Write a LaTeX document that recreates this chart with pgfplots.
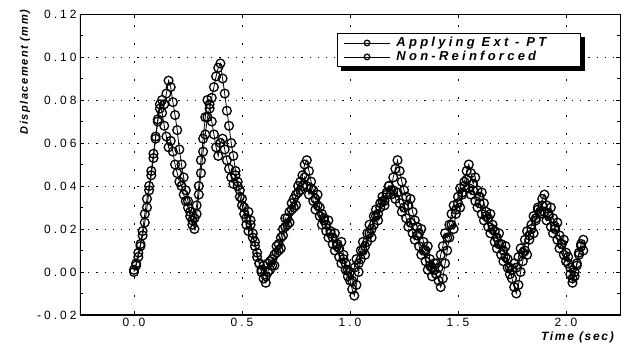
\documentclass[border=0pt]{standalone}
\usepackage{pgfplots}
\usepackage{pgfplotstable}
\pgfplotsset{compat=1.18}
\usepackage{fontspec}
\setmainfont{Liberation Sans}
\newfontfamily\tickfont[LetterSpace=25]{Liberation Sans}
\newfontfamily\labfont[LetterSpace=14]{Liberation Sans}
\newfontfamily\legfont[LetterSpace=25]{Liberation Sans}
\usetikzlibrary{backgrounds}

\pgfplotstableread{
t a b
0.00 0.000 0.001
0.01 0.004 0.003
0.02 0.009 0.007
0.03 0.013 0.012
0.04 0.019 0.017
0.05 0.027 0.023
0.06 0.034 0.030
0.07 0.040 0.038
0.08 0.047 0.045
0.09 0.055 0.053
0.10 0.063 0.062
0.11 0.071 0.070
0.12 0.076 0.078
0.13 0.080 0.074
0.14 0.078 0.068
0.15 0.083 0.063
0.16 0.089 0.058
0.17 0.086 0.061
0.18 0.079 0.056
0.19 0.073 0.050
0.20 0.066 0.046
0.21 0.057 0.042
0.22 0.050 0.040
0.23 0.044 0.036
0.24 0.038 0.033
0.25 0.033 0.030
0.26 0.028 0.026
0.27 0.024 0.022
0.28 0.020 0.025
0.29 0.027 0.031
0.30 0.036 0.040
0.31 0.046 0.052
0.32 0.056 0.062
0.33 0.064 0.072
0.34 0.072 0.080
0.35 0.076 0.078
0.36 0.081 0.070
0.37 0.086 0.064
0.38 0.091 0.058
0.39 0.095 0.054
0.40 0.097 0.060
0.41 0.090 0.062
0.42 0.083 0.057
0.43 0.075 0.052
0.44 0.068 0.048
0.45 0.060 0.044
0.46 0.054 0.041
0.47 0.047 0.045
0.48 0.042 0.040
0.49 0.038 0.035
0.50 0.034 0.031
0.51 0.030 0.027
0.52 0.025 0.022
0.53 0.028 0.019
0.54 0.022 0.024
0.55 0.016 0.018
0.56 0.014 0.012
0.57 0.009 0.007
0.58 0.004 0.004
0.59 0.001 0.000
0.60 -0.003 0.003
0.61 -0.005 -0.002
0.62 0.000 0.004
0.63 0.005 0.001
0.64 0.003 0.006
0.65 0.008 0.003
0.66 0.012 0.009
0.67 0.010 0.013
0.68 0.016 0.011
0.69 0.020 0.017
0.70 0.025 0.021
0.71 0.022 0.025
0.72 0.028 0.023
0.73 0.032 0.029
0.74 0.030 0.034
0.75 0.036 0.031
0.76 0.040 0.037
0.77 0.038 0.042
0.78 0.045 0.040
0.79 0.050 0.044
0.80 0.052 0.040
0.81 0.047 0.036
0.82 0.042 0.039
0.83 0.038 0.033
0.84 0.034 0.029
0.85 0.036 0.031
0.86 0.030 0.026
0.87 0.027 0.022
0.88 0.025 0.024
0.89 0.022 0.019
0.90 0.024 0.016
0.91 0.019 0.018
0.92 0.016 0.013
0.93 0.018 0.010
0.94 0.013 0.012
0.95 0.011 0.007
0.96 0.014 0.004
0.97 0.008 0.006
0.98 0.004 0.001
0.99 0.001 -0.002
1.00 -0.004 0.000
1.01 -0.008 -0.004
1.02 -0.011 0.002
1.03 -0.006 0.006
1.04 0.000 0.004
1.05 0.006 0.010
1.06 0.010 0.014
1.07 0.008 0.012
1.08 0.014 0.018
1.09 0.018 0.022
1.10 0.016 0.020
1.11 0.022 0.026
1.12 0.026 0.029
1.13 0.024 0.027
1.14 0.030 0.032
1.15 0.033 0.035
1.16 0.031 0.033
1.17 0.036 0.037
1.18 0.040 0.040
1.19 0.038 0.036
1.20 0.044 0.038
1.21 0.048 0.034
1.22 0.052 0.037
1.23 0.047 0.032
1.24 0.042 0.028
1.25 0.038 0.030
1.26 0.035 0.025
1.27 0.031 0.021
1.28 0.034 0.023
1.29 0.028 0.018
1.30 0.024 0.015
1.31 0.021 0.017
1.32 0.018 0.012
1.33 0.020 0.008
1.34 0.014 0.010
1.35 0.010 0.005
1.36 0.012 0.001
1.37 0.006 0.003
1.38 0.002 -0.002
1.39 0.004 0.001
1.40 -0.001 0.004
1.41 -0.004 0.002
1.42 -0.007 0.008
1.43 -0.003 0.012
1.44 0.004 0.018
1.45 0.010 0.016
1.46 0.016 0.022
1.47 0.022 0.027
1.48 0.020 0.031
1.49 0.027 0.029
1.50 0.032 0.035
1.51 0.030 0.039
1.52 0.037 0.036
1.53 0.042 0.040
1.54 0.047 0.043
1.55 0.050 0.039
1.56 0.046 0.036
1.57 0.041 0.038
1.58 0.044 0.033
1.59 0.038 0.030
1.60 0.035 0.032
1.61 0.037 0.027
1.62 0.032 0.024
1.63 0.028 0.026
1.64 0.025 0.021
1.65 0.027 0.018
1.66 0.022 0.020
1.67 0.019 0.014
1.68 0.016 0.011
1.69 0.018 0.013
1.70 0.013 0.008
1.71 0.010 0.005
1.72 0.012 0.007
1.73 0.006 0.002
1.74 0.002 -0.001
1.75 -0.003 0.001
1.76 -0.007 0.004
1.77 -0.010 0.002
1.78 -0.006 0.007
1.79 0.000 0.011
1.80 0.005 0.009
1.81 0.010 0.015
1.82 0.008 0.019
1.83 0.015 0.017
1.84 0.020 0.022
1.85 0.018 0.026
1.86 0.025 0.024
1.87 0.030 0.029
1.88 0.028 0.027
1.89 0.034 0.031
1.90 0.036 0.028
1.91 0.031 0.024
1.92 0.027 0.026
1.93 0.030 0.021
1.94 0.025 0.018
1.95 0.021 0.020
1.96 0.023 0.015
1.97 0.017 0.011
1.98 0.013 0.013
1.99 0.015 0.008
2.00 0.009 0.005
2.01 0.004 0.007
2.02 -0.001 0.002
2.03 -0.005 -0.003
2.04 -0.002 0.000
2.05 0.003 0.004
2.06 0.008 0.009
2.07 0.012 0.013
2.08 0.010 0.015
}\datatable

\begin{document}
\begin{tikzpicture}
\path[use as bounding box] (-80pt,-30pt) rectangle (547pt,315pt);
\begin{axis}[
  scale only axis,
  width=540pt, height=301pt,
  xmin=-0.25, xmax=2.25,
  ymin=-0.02, ymax=0.12,
  xtick={0,0.5,1,1.5,2},
  xticklabels={0.0,0.5,1.0,1.5,2.0},
  ytick={-0.02,0,0.02,0.04,0.06,0.08,0.10,0.12},
  yticklabels={-0.02,0.00,0.02,0.04,0.06,0.08,0.10,0.12},
  minor y tick num=1,
  tick align=inside,
  major tick length=4pt,
  minor tick length=3pt,
  tick style={black, line width=0.6pt},
  tick label style={font=\tickfont\fontsize{12}{14}\selectfont},
  axis line style={line width=0.8pt},
  xmajorgrids, ymajorgrids,
  major x grid style={black, line width=0.6pt, dash pattern=on 2pt off 16pt},
  major y grid style={black, line width=0.8pt, dash pattern=on 1.2pt off 7pt},
  xlabel={\labfont\fontsize{12}{14}\selectfont\bfseries\itshape Time (sec)},
  xlabel style={at={(axis description cs:0.995,-0.076)}, anchor=east},
  ylabel={\labfont\fontsize{11}{13}\selectfont\bfseries\itshape Displacement (mm)},
  ylabel style={at={(axis description cs:-0.102,0.807)}, anchor=center},
  legend style={at={(axis description cs:0.476,0.937)}, anchor=north west,
    name=leg,
    draw=black, line width=1.2pt, fill=white,
    font=\legfont\fontsize{13}{14}\selectfont\bfseries\itshape,
    inner xsep=6pt, inner ysep=2pt, row sep=-1pt,
    /tikz/every odd column/.append style={column sep=4pt}},
  legend cell align=left,
  legend image code/.code={\draw[mark repeat=2,mark phase=2,#1,mark size=2.8pt] plot coordinates {(0pt,0pt) (23pt,0pt) (46pt,0pt)};},
]
\addplot[black, line width=0.8pt, mark=o, mark size=4.4pt, mark options={fill=white, solid, line width=1.3pt}] table[x=t, y=a] {\datatable};
\addlegendentry{\makebox[176pt][l]{Applying Ext - PT}}
\addplot[black, line width=0.8pt, mark=o, mark size=4.4pt, mark options={fill=white, solid, line width=1.3pt}] table[x=t, y=b] {\datatable};
\addlegendentry{Non-Reinforced}
\draw[line width=1.8pt] (rel axis cs:0,1) -- (rel axis cs:0,0) -- (rel axis cs:1,0);
\end{axis}
\begin{scope}[on background layer]
\fill[black] ([xshift=4pt,yshift=-4pt]leg.south west) rectangle ([xshift=4pt,yshift=-4pt]leg.north east);
\end{scope}
\end{tikzpicture}
\end{document}
